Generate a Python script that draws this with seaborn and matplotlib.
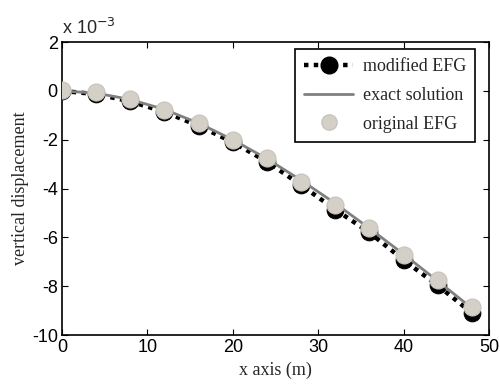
import matplotlib
matplotlib.use("Agg")
import matplotlib.pyplot as plt
import seaborn as sns
import pandas as pd
from matplotlib.lines import Line2D

# Cantilever beam: vertical displacement along the neutral axis (units of 1e-3 m)
x_nodes = [0, 4, 8, 12, 16, 20, 24, 28, 32, 36, 40, 44, 48]
exact_solution = [0.0, -0.09, -0.35, -0.76, -1.32, -2.00, -2.78, -3.66, -4.61, -5.63, -6.69, -7.79, -8.90]
modified_efg = [0.0, -0.13, -0.43, -0.86, -1.43, -2.10, -2.90, -3.86, -4.86, -5.80, -6.93, -7.97, -9.10]
original_efg = [0.05, -0.04, -0.33, -0.77, -1.32, -2.02, -2.76, -3.72, -4.67, -5.60, -6.72, -7.73, -8.86]

x_ticks = [0, 10, 20, 30, 40, 50]
y_ticks = [-10, -8, -6, -4, -2, 0, 2]

df = pd.DataFrame({
    "x": x_nodes,
    "exact": exact_solution,
    "modified": modified_efg,
    "original": original_efg,
})

sns.set_style("ticks")
plt.rcParams["font.family"] = ["Liberation Sans", "DejaVu Sans"]

fig = plt.figure(figsize=(5.0, 3.9), dpi=100)
ax = fig.add_axes([0.124, 0.141, 0.854, 0.751])

serif = ["Liberation Serif", "DejaVu Serif"]
gray_marker = "#d4d0c8"

# modified EFG: thick dotted black line with filled circles
sns.lineplot(data=df, x="x", y="modified", ax=ax, color="black", linewidth=3.2,
             linestyle=(0, (1, 1.2)), marker="o", markersize=12,
             markerfacecolor="black", markeredgecolor="black", legend=False)
# exact solution: solid gray line
sns.lineplot(data=df, x="x", y="exact", ax=ax, color="#808080", linewidth=2.0, legend=False)
# original EFG: light gray markers
sns.scatterplot(data=df, x="x", y="original", ax=ax, color=gray_marker, s=150,
                marker="o", edgecolor="#c8c4bc", linewidth=0.8, zorder=5, legend=False)

ax.set_xlim(0, 50)
ax.set_ylim(-10, 2)
ax.set_xticks(x_ticks)
ax.set_yticks(y_ticks)
ax.set_xticklabels([str(t) for t in x_ticks])
ax.set_yticklabels([str(t) for t in y_ticks])
ax.tick_params(direction="in", length=4, width=0.8, top=True, right=True,
               labelsize=13, pad=3, colors="black")
for sp in ax.spines.values():
    sp.set_visible(True)
    sp.set_linewidth(1.2)
    sp.set_color("black")

ax.set_xlabel("x axis (m)", fontsize=13, family=serif, labelpad=4)
ax.set_ylabel("vertical displacement", fontsize=13, family=serif, labelpad=2)
ax.text(0.0, 1.015, r"x 10$^{-3}$", transform=ax.transAxes, fontsize=13,
        ha="left", va="bottom")

handles = [
    Line2D([], [], color="black", linewidth=3.2, linestyle=(0, (1, 1.2)),
           marker="o", markersize=12, markerfacecolor="black"),
    Line2D([], [], color="#808080", linewidth=2.0),
    Line2D([], [], color=gray_marker, linestyle="none", marker="o", markersize=11,
           markeredgecolor="#c8c4bc"),
]
leg = ax.legend(handles, ["modified EFG", "exact solution", "original EFG"],
                loc="upper right", bbox_to_anchor=(0.968, 0.976),
                prop={"family": serif, "size": 13}, frameon=True, fancybox=False,
                framealpha=1, edgecolor="black", handlelength=2.7,
                borderpad=0.5, labelspacing=0.65, handletextpad=0.55, borderaxespad=0)
leg.get_frame().set_linewidth(1.2)

fig.savefig("out.png", dpi=100)
